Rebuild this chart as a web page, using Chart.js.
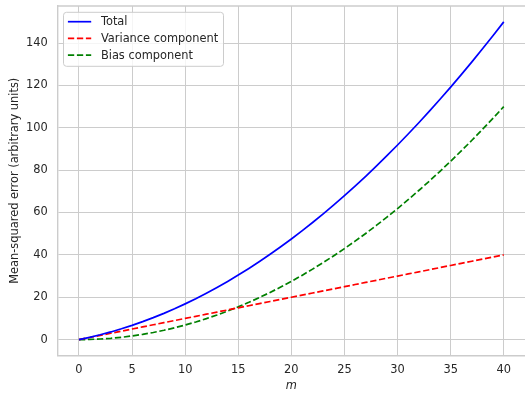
<!DOCTYPE html>
<html>
<head>
<meta charset="utf-8">
<script src="https://cdn.jsdelivr.net/npm/chart.js@4/dist/chart.umd.min.js"></script>
<style>
  html, body { margin: 0; padding: 0; background: #fff; }
  #wrap { width: 525px; height: 394px; }
</style>
</head>
<body>
<div id="wrap"><canvas id="mseChart"></canvas></div>
<script>
// m from 0 to 40
var mValues = [0, 1, 2, 3, 4, 5, 6, 7, 8, 9, 10, 11, 12, 13, 14, 15, 16, 17, 18, 19, 20,
    21, 22, 23, 24, 25, 26, 27, 28, 29, 30, 31, 32, 33, 34, 35, 36, 37, 38, 39, 40];
var totalErr = [0, 1.07, 2.28, 3.62, 5.1, 6.72, 8.48, 10.37, 12.4, 14.57, 16.88, 19.32, 21.9,
    24.62, 27.48, 30.47, 33.6, 36.87, 40.28, 43.82, 47.5, 51.32, 55.28, 59.37, 63.6, 67.97,
    72.48, 77.12, 81.9, 86.82, 91.88, 97.07, 102.4, 107.87, 113.48, 119.22, 125.1, 131.12,
    137.28, 143.57, 150];
var varianceErr = [0, 1, 2, 3, 4, 5, 6, 7, 8, 9, 10, 11, 12, 13, 14, 15, 16, 17, 18, 19, 20,
    21, 22, 23, 24, 25, 26, 27, 28, 29, 30, 31, 32, 33, 34, 35, 36, 37, 38, 39, 40];
var biasErr = [0, 0.07, 0.28, 0.62, 1.1, 1.72, 2.48, 3.37, 4.4, 5.57, 6.88, 8.32, 9.9, 11.62,
    13.48, 15.47, 17.6, 19.87, 22.28, 24.82, 27.5, 30.32, 33.28, 36.37, 39.6, 42.97, 46.48,
    50.12, 53.9, 57.82, 61.88, 66.07, 70.4, 74.87, 79.48, 84.22, 89.1, 94.12, 99.28, 104.57, 110];
var seriesNames = ['Total', 'Variance component', 'Bias component'];

function toPoints(ys) {
    return mValues.map(function(m, i) { return { x: m, y: ys[i] } })
}

var FONT = 'DejaVu Sans';
var dash = [6.3, 2.7];

// top frame line (chart.js only draws the axis side); right side runs off the canvas
var frame = {
    id: 'frame',
    beforeDatasetsDraw: function(chart) {
        var c = chart.ctx, a = chart.chartArea;
        c.save();
        c.strokeStyle = '#cccccc';
        c.lineWidth = 1.4;
        c.beginPath();
        c.moveTo(a.left, a.top);
        c.lineTo(a.right, a.top);
        c.stroke();
        c.restore();
    }
};

// legend box drawn inside the plot, top-left
var boxLegend = {
    id: 'boxLegend',
    afterDatasetsDraw: function(chart) {
        var ctx = chart.ctx;
        var area = chart.chartArea;
        var x0 = area.left + 5.8, y0 = area.top + 6.3;
        var w = 160, h = 54;
        ctx.save();
        ctx.beginPath();
        ctx.roundRect(x0, y0, w, h, 3);
        ctx.fillStyle = 'rgba(255,255,255,0.8)';
        ctx.fill();
        ctx.strokeStyle = '#cccccc';
        ctx.lineWidth = 1;
        ctx.stroke();
        ctx.font = '11.4px "' + FONT + '"';
        ctx.textBaseline = 'middle';
        chart.data.datasets.forEach(function(ds, i) {
            var yy = y0 + 9.4 + i * 16.7;
            ctx.beginPath();
            ctx.setLineDash(ds.borderDash || []);
            ctx.strokeStyle = ds.borderColor;
            ctx.lineWidth = 1.7;
            ctx.moveTo(x0 + 4.4, yy);
            ctx.lineTo(x0 + 27.7, yy);
            ctx.stroke();
            ctx.setLineDash([]);
            ctx.fillStyle = '#262626';
            ctx.fillText(ds.label, x0 + 37.4, yy + 0.5);
        });
        ctx.restore();
    }
};

var ctx = document.getElementById('mseChart').getContext('2d');
new Chart(ctx, {
    type: 'line',
    data: {
        datasets: [{
            label: seriesNames[0],
            data: toPoints(totalErr),
            borderColor: '#0000ff',
            borderWidth: 1.7
        }, {
            label: seriesNames[1],
            data: toPoints(varianceErr),
            borderColor: '#ff0000',
            borderWidth: 1.7,
            borderDash: dash
        }, {
            label: seriesNames[2],
            data: toPoints(biasErr),
            borderColor: '#008000',
            borderWidth: 1.7,
            borderDash: dash
        }]
    },
    options: {
        responsive: true,
        maintainAspectRatio: false,
        animation: false,
        elements: {
            point: { radius: 0, hoverRadius: 0 },
            line: { tension: 0, fill: false }
        },
        layout: { padding: { top: 6, right: 0, bottom: 0, left: 0 } },
        plugins: {
            legend: { display: false },
            tooltip: { enabled: false }
        },
        scales: {
            x: {
                type: 'linear',
                min: -2,
                max: 42,
                afterFit: function(scale) {
                    scale.height = 38.5;
                    scale.paddingLeft = 0;
                    scale.paddingRight = 0;
                },
                grid: { color: '#cccccc', lineWidth: 1, drawTicks: false },
                border: { color: '#cccccc', width: 1.4 },
                ticks: {
                    stepSize: 5,
                    includeBounds: false,
                    padding: 8,
                    color: '#262626',
                    font: { family: FONT, size: 11.4 }
                },
                title: {
                    display: true,
                    text: 'm',
                    color: '#262626',
                    padding: { top: 0, bottom: 1 },
                    font: { family: FONT, size: 11.4, style: 'italic' }
                }
            },
            y: {
                min: -7.5,
                max: 157.5,
                afterFit: function(scale) {
                    scale.width = 57.7;
                    scale.paddingTop = 0;
                    scale.paddingBottom = 0;
                },
                grid: { color: '#cccccc', lineWidth: 1, drawTicks: false },
                border: { color: '#cccccc', width: 1.4 },
                ticks: {
                    stepSize: 20,
                    includeBounds: false,
                    padding: 10,
                    color: '#262626',
                    font: { family: FONT, size: 11.4 }
                },
                title: {
                    display: true,
                    text: 'Mean-squared error (arbitrary units)',
                    color: '#262626',
                    padding: { top: 8, bottom: 0 },
                    font: { family: FONT, size: 11.4 }
                }
            }
        }
    },
    plugins: [frame, boxLegend]
})
</script>
</body>
</html>
